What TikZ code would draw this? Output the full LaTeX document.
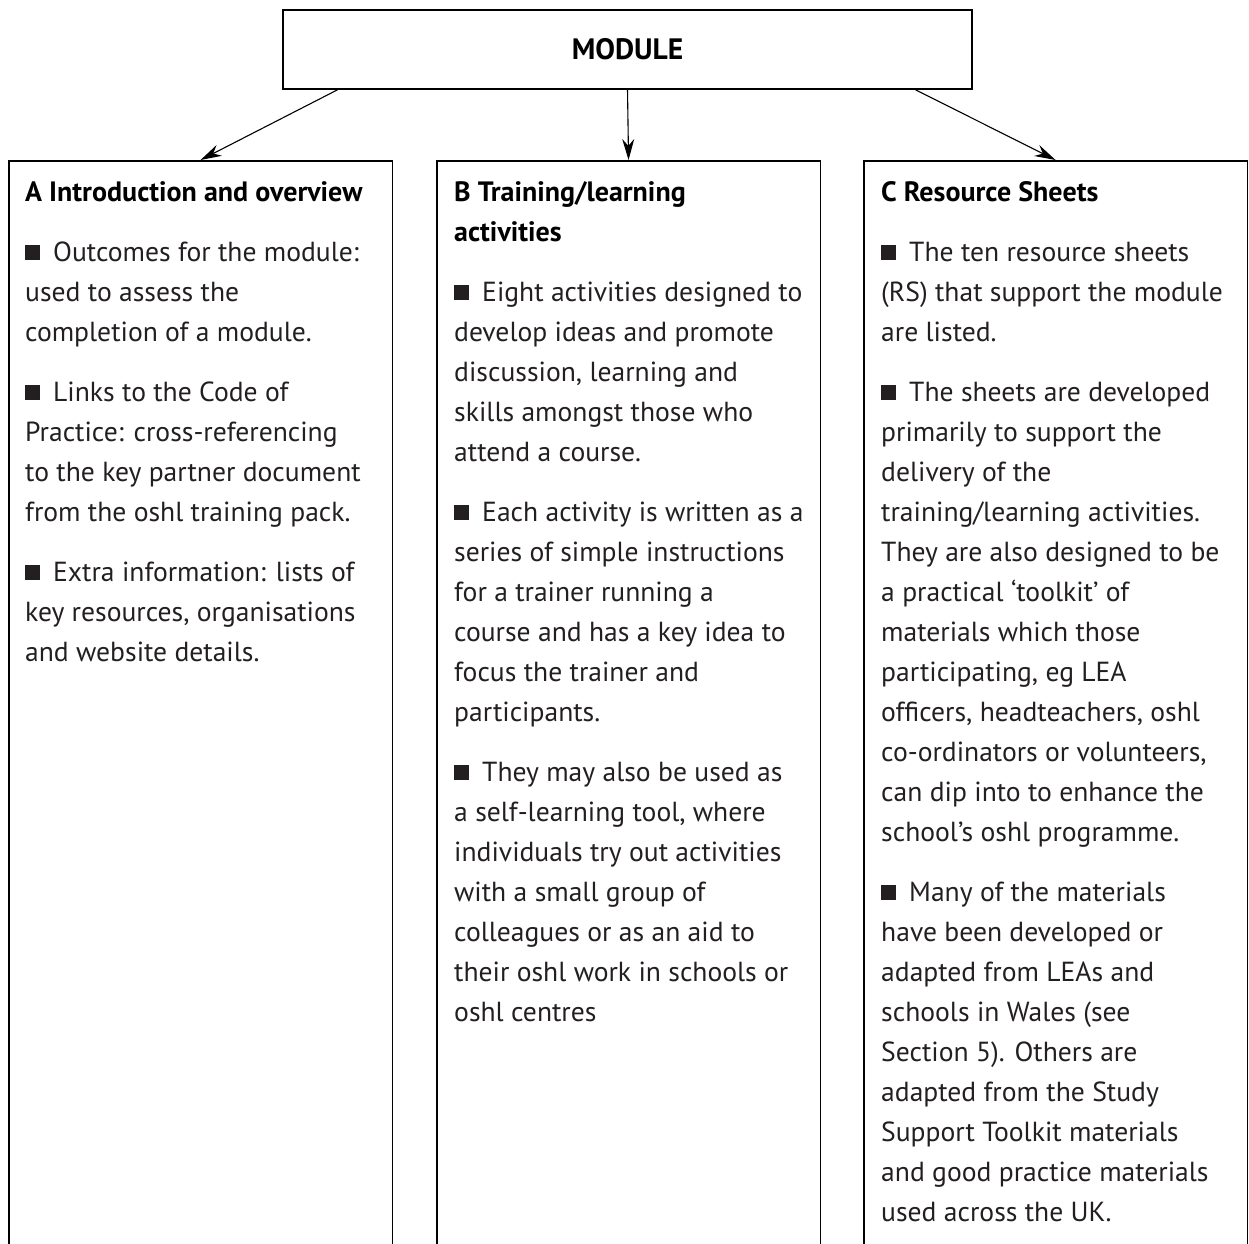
\documentclass[tikz,border=0pt]{standalone}
\usepackage{fontspec}
\setmainfont{PT Sans}
\usepackage{tikz}
\usetikzlibrary{arrows.meta}
\definecolor{inkgray}{HTML}{231F20}
\newcommand{\bul}{\raisebox{1pt}{\rule{15pt}{15pt}}\hspace{13pt}}

\begin{document}
\begin{tikzpicture}[x=1pt, y=-1pt,
    colbox/.style={draw, line width=1.6pt, anchor=north west, minimum width=383.5pt, minimum height=1200pt, inner sep=0pt},
    coltext/.style={anchor=north west, inner sep=0pt, align=left, text=inkgray, font=\fontsize{27.6}{40}\selectfont},
    feed/.style={-{Stealth[length=21pt, width=12pt]}, line width=1.1pt}]
    \useasboundingbox (0,0) rectangle (1249,1243);
    \clip (0,0) rectangle (1249,1243);
    \node[draw, line width=1.6pt, minimum width=689pt, minimum height=79pt, inner sep=0pt, font=\fontsize{29.5}{40}\selectfont\bfseries] (module) at (627.5,49.5) {MODULE};
    \foreach \n/\x in {A/8, B/436, C/863}{
        \node[colbox] (box\n) at (\x,160) {};
    }
    \draw[feed] ([xshift=-290pt]module.south) -- (boxA.north);
    \draw[feed] (module.south) -- (boxB.north);
    \draw[feed] ([xshift=288pt]module.south) -- (boxC.north);
    \node[coltext] (textA) at (25,173) {\strut{\fontsize{28}{40}\selectfont\bfseries\color{black}A Introduction and overview}\\[20pt]
        \bul Outcomes for the module:\\
        used to assess the\\
        completion of a module.\\[20pt]
        \bul Links to the Code of\\
        Practice: cross-referencing\\
        to the key partner document\\
        from the oshl training pack.\\[20pt]
        \bul Extra information: lists of\\
        key resources, organisations\\
        and website details.};
    \node[coltext] (textB) at (454,173) {\strut{\fontsize{28}{40}\selectfont\bfseries\color{black}B Training/learning}\\
        {\fontsize{28}{40}\selectfont\bfseries\color{black}activities}\\[20pt]
        \bul Eight activities designed to\\
        develop ideas and promote\\
        discussion, learning and\\
        skills amongst those who\\
        attend a course.\\[20pt]
        \bul Each activity is written as a\\
        series of simple instructions\\
        for a trainer running a\\
        course and has a key idea to\\
        focus the trainer and\\
        participants.\\[20pt]
        \bul They may also be used as\\
        a self-learning tool, where\\
        individuals try out activities\\
        with a small group of\\
        colleagues or as an aid to\\
        their oshl work in schools or\\
        oshl centres};
    \node[coltext] (textC) at (881,173) {\strut{\fontsize{28}{40}\selectfont\bfseries\color{black}C Resource Sheets}\\[20pt]
        \bul The ten resource sheets\\
        (RS) that support the module\\
        are listed.\\[20pt]
        \bul The sheets are developed\\
        primarily to support the\\
        delivery of the\\
        training/learning activities.\\
        They are also designed to be\\
        a practical ‘toolkit’ of\\
        materials which those\\
        participating, eg LEA\\
        officers, headteachers, oshl\\
        co-ordinators or volunteers,\\
        can dip into to enhance the\\
        school’s oshl programme.\\[20pt]
        \bul Many of the materials\\
        have been developed or\\
        adapted from LEAs and\\
        schools in Wales (see\\
        Section 5). Others are\\
        adapted from the Study\\
        Support Toolkit materials\\
        and good practice materials\\
        used across the UK.};
\end{tikzpicture}
\end{document}
